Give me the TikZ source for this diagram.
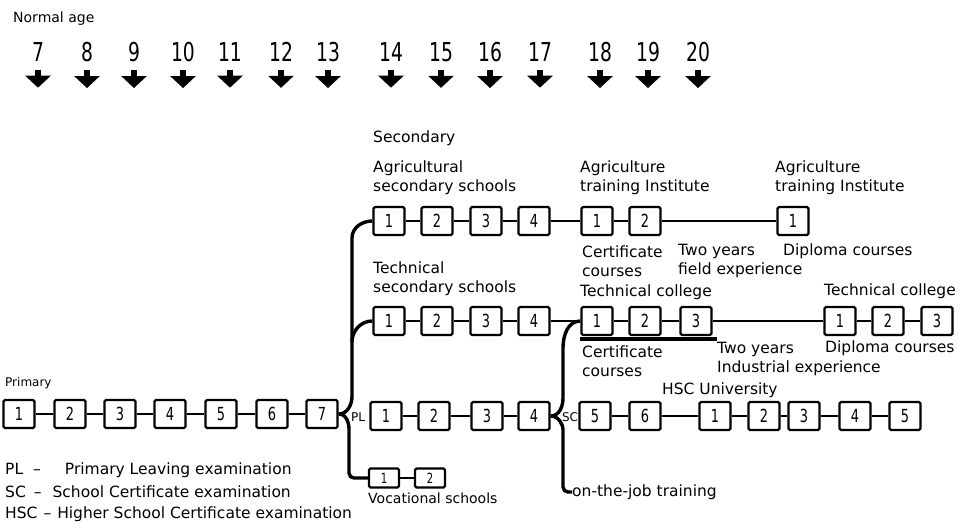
\documentclass[tikz,border=0pt]{standalone}
\usepackage{fontspec}
\setmainfont{DejaVu Sans}
\newfontfamily\digitfont[FakeStretch=0.72]{DejaVu Sans}
\usetikzlibrary{arrows.meta}

\tikzset{
  yearbox/.style={draw,line width=2.4pt,rounded corners=1.5pt,minimum width=31pt,minimum height=28pt,inner sep=0pt,font=\digitfont\fontsize{18}{18}\selectfont},
  vocbox/.style={yearbox,minimum width=30pt,minimum height=19pt,font=\digitfont\fontsize{14}{14}\selectfont},
  txt/.style={anchor=west,align=left,inner sep=0pt},
  link/.style={line width=2.2pt},
  branch/.style={line width=3.4pt},
  agearrow/.style={line width=6pt,-{Triangle[width=25pt,length=12pt]}},
}

\begin{document}
\begin{tikzpicture}[x=1pt,y=-1pt,font=\fontsize{15.5}{19}\selectfont]
    \useasboundingbox (0,0) rectangle (960,528);
    % ages
    \node[txt,font=\fontsize{14}{14}\selectfont] (normalage) at (13,19) {Normal age};
    \foreach \a/\x in {7/38,8/87,9/134,10/183,11/230,12/281,13/328,14/391,15/441,16/490,17/540,18/600,19/648,20/698}{
      \node[inner sep=0pt,font=\digitfont\fontsize{26}{26}\selectfont] (age\a) at (\x,52) {\a};
      \draw[agearrow] (age\a.south) ++(0,8) -- ++(0,18);
    }
    % primary
    \node[txt,font=\fontsize{12}{12}\selectfont] (primary) at (5,383) {Primary};
    \foreach \n/\x in {1/19,2/70,3/120,4/170,5/221,6/272,7/322}
      \node[yearbox] (p\n) at (\x,414) {\n};
    \foreach \a/\b in {1/2,2/3,3/4,4/5,5/6,6/7}
      \draw[link] (p\a) -- (p\b);
    % secondary, agricultural
    \node[txt] (secondary) at (373,138) {Secondary};
    \node[txt] (agsec) at (373,178) {Agricultural\\secondary schools};
    \foreach \n/\x in {1/389,2/437,3/486,4/534}
      \node[yearbox] (ag\n) at (\x,221) {\n};
    \node[yearbox] (ati1) at (597,221) {1};
    \node[yearbox] (ati2) at (645,221) {2};
    \node[yearbox] (atd1) at (793,221) {1};
    \foreach \a/\b in {ag1/ag2,ag2/ag3,ag3/ag4,ag4/ati1,ati1/ati2,ati2/atd1}
      \draw[link] (\a) -- (\b);
    \node[txt] (agti) at (580,178) {Agriculture\\training Institute};
    \node[txt] (agtd) at (775,178) {Agriculture\\training Institute};
    \node[txt] (agcert) at (582,261) {Certificate\\courses};
    \node[txt] (agfield) at (678,261) {Two years\\field experience};
    \node[txt] (agdipl) at (783,251) {Diploma courses};
    % secondary, technical
    \node[txt] (tesec) at (373,279) {Technical\\secondary schools};
    \foreach \n/\x in {1/389,2/437,3/486,4/534}
      \node[yearbox] (te\n) at (\x,321) {\n};
    \foreach \n/\x in {1/597,2/645,3/696}
      \node[yearbox] (tc\n) at (\x,321) {\n};
    \foreach \n/\x in {1/840,2/888,3/937}
      \node[yearbox] (td\n) at (\x,321) {\n};
    \foreach \a/\b in {te1/te2,te2/te3,te3/te4,te4/tc1,tc1/tc2,tc2/tc3,tc3/td1,td1/td2,td2/td3}
      \draw[link] (\a) -- (\b);
    \draw[line width=3.8pt] ([yshift=-3pt]tc1.south west) -- ([xshift=4pt,yshift=-3pt]tc3.south east);
    \node[txt] (tcol) at (580,292) {Technical college};
    \node[txt] (tdcol) at (824,291) {Technical college};
    \node[txt] (tccert) at (582,361) {Certificate\\courses};
    \node[txt] (tcind) at (717,359) {Two years\\Industrial experience};
    \node[txt] (tddipl) at (825,348) {Diploma courses};
    % secondary, general and university
    \foreach \n/\x in {1/386,2/434,3/487,4/534}
      \node[yearbox] (s\n) at (\x,416) {\n};
    \node[yearbox] (s5) at (595,416) {5};
    \node[yearbox] (s6) at (645,416) {6};
    \foreach \n/\x in {1/715,2/764,3/804,4/855,5/905}
      \node[yearbox] (u\n) at (\x,416) {\n};
    \foreach \a/\b in {s1/s2,s2/s3,s3/s4,s5/s6,s6/u1,u1/u2,u2/u3,u3/u4,u4/u5}
      \draw[link] (\a) -- (\b);
    \node[txt] (hsc) at (662,390) {HSC University};
    % vocational
    \node[vocbox] (v1) at (384,478) {1};
    \node[vocbox] (v2) at (430,478) {2};
    \draw[link] (v1) -- (v2);
    \node[txt,font=\fontsize{14}{14}\selectfont] (voc) at (368,498) {Vocational schools};
    % PL and SC branches
    \node[inner sep=0pt,font=\fontsize{12}{12}\selectfont] (pl) at (358,417) {PL};
    \draw[branch] (p7.east) to[out=0,in=-90] (352,396) -- (352,238) to[out=90,in=180] (ag1.west);
    \draw[branch] (352,342) to[out=90,in=180] (te1.west);
    \draw[branch,rounded corners=5pt] (p7.east) to[out=0,in=90] (349,434) |- (v1.west);
    \node[txt] (ojt) at (572,492) {on-the-job training};
    \node[inner sep=0pt,font=\fontsize{12}{12}\selectfont] (sc) at (570,417) {SC};
    \draw[branch] (s4.east) to[out=0,in=-90] (563,398) -- (563,348) to[out=90,in=180] (tc1.west);
    \draw[branch,rounded corners=5pt] (s4.east) to[out=0,in=90] (563,434) |- (ojt.west);
    % key
    \node[txt] (legpl) at (5,470) {PL\hspace{10pt}–\hspace{24pt}Primary Leaving examination};
    \node[txt] (legsc) at (5,492) {SC\hspace{8pt}–\hspace{11pt}School Certificate examination};
    \node[txt] (leghsc) at (5,514) {HSC\hspace{6pt}–\hspace{6pt}Higher School Certificate examination};
\end{tikzpicture}
\end{document}
